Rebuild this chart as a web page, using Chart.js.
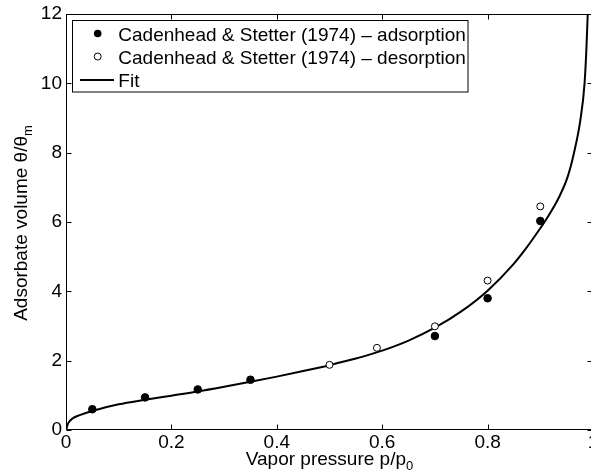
<!DOCTYPE html>
<html>
<head>
<meta charset="utf-8">
<script src="https://cdn.jsdelivr.net/npm/chart.js@4/dist/chart.umd.min.js"></script>
<style>
html, body { margin:0; padding:0; overflow:hidden; background:#fff; width:591px; height:472px; }
#wrap { position:absolute; left:0; top:0; width:600px; height:472px; }
</style>
</head>
<body>
<div id="wrap"><canvas id="c" width="600" height="472"></canvas></div>
<script>
// ---- data ----
const adsX = [0.05, 0.15, 0.25, 0.35, 0.70, 0.80, 0.90];
const adsY = [0.60, 0.94, 1.17, 1.45, 2.71, 3.80, 6.03];
const desX = [0.50, 0.59, 0.70, 0.80, 0.90];
const desY = [1.88, 2.37, 2.99, 4.31, 6.45];
const fitX = [0, 0.004, 0.013, 0.026, 0.05, 0.10, 0.15, 0.20, 0.25, 0.30, 0.35, 0.40, 0.45, 0.50, 0.55, 0.60, 0.65, 0.70, 0.75, 0.80, 0.85, 0.875, 0.90, 0.908, 0.936, 0.952, 0.964, 0.976, 0.984, 0.9875, 0.990];
const fitY = [0, 0.19, 0.34, 0.43, 0.55, 0.74, 0.87, 0.99, 1.11, 1.245, 1.39, 1.54, 1.70, 1.87, 2.06, 2.29, 2.58, 2.95, 3.42, 4.02, 4.80, 5.28, 5.82, 6.00, 6.73, 7.31, 8.00, 8.94, 10.00, 11.00, 12.00];
const xTicks = [0, 0.2, 0.4, 0.6, 0.8, 1];
const yTicks = [0, 2, 4, 6, 8, 10, 12];
const seriesLabels = ['Cadenhead & Stetter (1974) \u2013 adsorption', 'Cadenhead & Stetter (1974) \u2013 desorption', 'Fit'];
const xTitle = ['Vapor pressure p/p', '0'];
const yTitle = ['Adsorbate volume \u03B8/\u03B8', 'm'];

const FONT = '"Liberation Sans", Arial, Helvetica, sans-serif';
const zip = (xs, ys) => xs.map((x, i) => ({x, y: ys[i]}));

function drawSubText(ctx, parts, cx, cy, size, subSize, subDrop) {
  ctx.font = size + 'px ' + FONT;
  const w1 = ctx.measureText(parts[0]).width;
  ctx.font = subSize + 'px ' + FONT;
  const w2 = ctx.measureText(parts[1]).width;
  const x0 = cx - (w1 + w2) / 2;
  ctx.textAlign = 'left';
  ctx.textBaseline = 'alphabetic';
  ctx.font = size + 'px ' + FONT;
  ctx.fillText(parts[0], x0, cy);
  ctx.font = subSize + 'px ' + FONT;
  ctx.fillText(parts[1], x0 + w1, cy + subDrop);
}

const decor = {
  id: 'decor',
  afterDraw(chart) {
    const ctx = chart.ctx;
    const a = chart.chartArea;
    const xs = chart.scales.x, ys = chart.scales.y;
    ctx.save();
    ctx.strokeStyle = '#000';
    ctx.fillStyle = '#000';
    ctx.lineWidth = 1;
    const L = Math.round(a.left) + 0.5, R = Math.round(a.right) - 0.5;
    const T = Math.round(a.top) + 0.5, B = Math.round(a.bottom) - 0.5;
    ctx.strokeRect(L, T, R - L, B - T);
    const tl = 5;
    ctx.beginPath();
    xTicks.forEach(v => {
      const px = Math.round(xs.getPixelForValue(v)) + 0.5;
      ctx.moveTo(px, B); ctx.lineTo(px, B - tl);
      ctx.moveTo(px, T); ctx.lineTo(px, T + tl);
    });
    yTicks.forEach(v => {
      const py = Math.round(ys.getPixelForValue(v)) + 0.5;
      ctx.moveTo(L, py); ctx.lineTo(L + tl, py);
      ctx.moveTo(R, py); ctx.lineTo(R - tl, py);
    });
    ctx.stroke();
    drawSubText(ctx, xTitle, (a.left + a.right) / 2, 465, 19, 13, 5);
    ctx.save();
    ctx.translate(27, (a.top + a.bottom) / 2 + 1);
    ctx.rotate(-Math.PI / 2);
    drawSubText(ctx, yTitle, 0, 0, 19, 13, 5);
    ctx.restore();
    // legend
    const lx = 72.5, ly = 20.5, lw = 395.5, lh = 71.5;
    ctx.fillStyle = '#fff';
    ctx.fillRect(lx, ly, lw, lh);
    ctx.strokeStyle = '#000';
    ctx.strokeRect(lx, ly, lw, lh);
    const rowsY = [33.5, 56.5, 80];
    const baseY = [40.5, 63.5, 87];
    ctx.fillStyle = '#000';
    ctx.beginPath(); ctx.arc(97.7, rowsY[0], 3.8, 0, Math.PI * 2); ctx.fill();
    ctx.fillStyle = '#fff';
    ctx.lineWidth = 1;
    ctx.beginPath(); ctx.arc(97.7, rowsY[1], 3.5, 0, Math.PI * 2); ctx.fill(); ctx.stroke();
    ctx.lineWidth = 2;
    ctx.beginPath(); ctx.moveTo(80, rowsY[2]); ctx.lineTo(114, rowsY[2]); ctx.stroke();
    ctx.fillStyle = '#000';
    ctx.font = '19px ' + FONT;
    ctx.textAlign = 'left';
    ctx.textBaseline = 'alphabetic';
    seriesLabels.forEach((t, i) => ctx.fillText(t, 118.3, baseY[i]));
    ctx.restore();
  }
};

Chart.defaults.font.family = FONT;
Chart.defaults.font.size = 19;
Chart.defaults.color = '#000';

new Chart(document.getElementById('c'), {
  type: 'scatter',
  data: {
    datasets: [
      { label: seriesLabels[0], data: zip(adsX, adsY), showLine: false,
        pointRadius: 3.8, pointBackgroundColor: '#000', pointBorderColor: '#000', pointBorderWidth: 1 },
      { label: seriesLabels[1], data: zip(desX, desY), showLine: false,
        pointRadius: 3.5, pointBackgroundColor: '#fff', pointBorderColor: '#000', pointBorderWidth: 1 },
      { label: seriesLabels[2], data: zip(fitX, fitY), showLine: true, pointRadius: 0,
        borderColor: '#000', borderWidth: 2, cubicInterpolationMode: 'monotone', fill: false }
    ]
  },
  options: {
    responsive: false,
    animation: false,
    devicePixelRatio: 1,
    events: [],
    layout: { padding: { left: 0, top: 14, right: 7, bottom: 0 } },
    plugins: { legend: { display: false }, tooltip: { enabled: false } },
    scales: {
      x: {
        type: 'linear', min: 0, max: 1,
        grid: { display: false, drawTicks: false }, border: { display: false },
        afterBuildTicks: s => { s.ticks = xTicks.map(v => ({ value: v })); },
        afterFit: s => { s.height = 42; s.paddingLeft = 0; s.paddingRight = 0; },
        ticks: { padding: 1, maxRotation: 0, autoSkip: false, color: '#000',
                 callback: v => String(v) }
      },
      y: {
        type: 'linear', min: 0, max: 12,
        grid: { display: false, drawTicks: false }, border: { display: false },
        afterBuildTicks: s => { s.ticks = yTicks.map(v => ({ value: v })); },
        afterFit: s => { s.width = 66; s.paddingTop = 0; s.paddingBottom = 0; },
        ticks: { padding: 4, autoSkip: false, color: '#000', callback: v => String(v) }
      }
    }
  },
  plugins: [decor]
});
</script>
</body>
</html>
